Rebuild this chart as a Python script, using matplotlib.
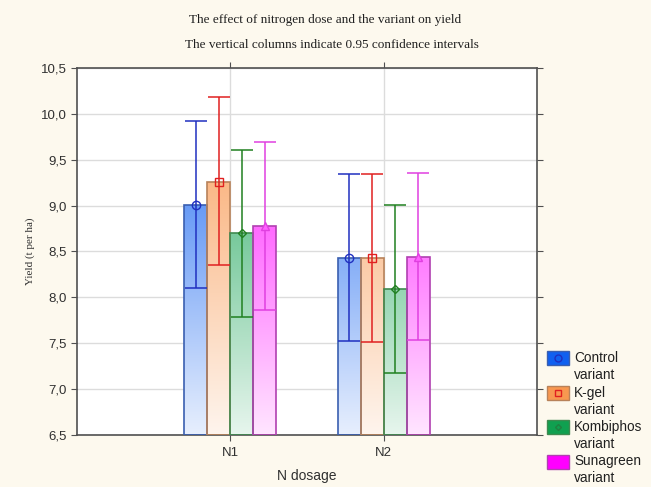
import numpy as np
import matplotlib
matplotlib.use('Agg')
import matplotlib.pyplot as plt
from matplotlib.patches import Rectangle
from matplotlib.lines import Line2D
from matplotlib.colors import to_rgb
from matplotlib.ticker import FuncFormatter

# Dane: plon (t/ha) i przedziały ufności 0.95
doses = ['N1', 'N2']
variants = ['Control\nvariant', 'K-gel\nvariant', 'Kombiphos\nvariant', 'Sunagreen\nvariant']
means = [[9.01, 8.43],
         [9.26, 8.43],
         [8.70, 8.09],
         [8.78, 8.44]]
ci_low = [[8.10, 7.52],
          [8.35, 7.51],
          [7.79, 7.18],
          [7.86, 7.53]]
ci_high = [[9.92, 9.34],
           [10.18, 9.34],
           [9.61, 9.01],
           [9.69, 9.36]]

fill_colors = ['#1060f0', '#f89850', '#10a050', '#ff00ff']
edge_colors = ['#3a5fb0', '#b8825a', '#3f8a50', '#b040b0']
err_colors = ['#2030c0', '#e02020', '#208020', '#e040e0']
markers = ['o', 's', 'D', '^']
msizes = [6, 6, 4, 6]

bg = '#fdf9ee'
ymin, ymax = 6.5, 10.5
W, H = 651, 487

fig = plt.figure(figsize=(6.51, 4.87), dpi=100, facecolor=bg)
ax = fig.add_axes([0.1183, 0.1068, 0.7066, 0.7536])
ax.set_facecolor('white')

x = np.arange(1, len(doses) + 1)
width = 0.15

def grad_img(color):
    # pionowy gradient: u góry nasycony, na dole prawie biały
    n = 256
    t = np.linspace(0, 1, n)[:, None]          # 0 = dół osi, 1 = góra osi
    a = 0.10 + 0.85 * t
    rgb = np.array(to_rgb(color))
    img = (1 - a[..., None]) * 1.0 + a[..., None] * rgb
    return img

for i in range(len(variants)):
    offs = (i - 1.5) * width
    img = grad_img(fill_colors[i])
    for j in range(len(doses)):
        x0 = x[j] + offs - width / 2
        top = means[i][j]
        im = ax.imshow(img, extent=(x0, x0 + width, ymin, ymax), origin='lower',
                       aspect='auto', zorder=2, interpolation='bilinear')
        clip = plt.Rectangle((x0, ymin), width, top - ymin, transform=ax.transData)
        im.set_clip_path(clip)
    ax.bar(x + offs, np.array(means[i]) - ymin, width, bottom=ymin,
           facecolor='none', edgecolor=edge_colors[i], linewidth=1.2, zorder=3)
    m = np.array(means[i])
    yerr = [m - np.array(ci_low[i]), np.array(ci_high[i]) - m]
    mfc = 'none' if i < 3 else '#ff60ff'
    ax.errorbar(x + offs, m, yerr=yerr, fmt=markers[i], color=err_colors[i],
                mfc=mfc, mec=err_colors[i], ms=msizes[i], elinewidth=1.1,
                capsize=8, capthick=1.1, zorder=4)

ax.set_xlim(0, 3)
ax.set_ylim(ymin, ymax)
ax.set_yticks(np.arange(6.5, 10.51, 0.5))
ax.yaxis.set_major_formatter(FuncFormatter(lambda v, p: f'{v:.1f}'.replace('.', ',')))
ax.set_xticks(x)
ax.set_xticklabels(doses)
ax.grid(True, color='#dcdcdc', linewidth=1, zorder=0)
ax.set_axisbelow(True)
for s in ax.spines.values():
    s.set_color('#505050')
    s.set_linewidth(1.2)
ax.tick_params(axis='both', direction='out', length=4, color='#505050',
               labelsize=9.5, labelcolor='#303030', top=True, right=True,
               labeltop=False, labelright=False)
for lab in ax.get_xticklabels() + ax.get_yticklabels():
    lab.set_family('Liberation Sans')
ax.tick_params(axis='x', pad=5)

ax.set_xlabel('N dosage', family='Liberation Sans', fontsize=10, color='#303030', labelpad=7)
ax.set_ylabel('Yield (t per ha)', family='Liberation Serif', fontsize=8, color='#303030', labelpad=4)

fig.text(0.50, 0.958, 'The effect of nitrogen dose and the variant on yield',
         ha='center', va='center', family='Liberation Serif', fontsize=9.5, color='#202020')
fig.text(0.51, 0.907, 'The vertical columns indicate 0.95 confidence intervals',
         ha='center', va='center', family='Liberation Serif', fontsize=9.5, color='#202020')

# legenda rysowana ręcznie: prostokąt + znacznik, podpis w dwóch wierszach
for i, lab in enumerate(variants):
    yc = 358 + 34.5 * i
    fig.add_artist(Rectangle((547 / W, 1 - (yc + 7) / H), 22 / W, 14 / H,
                             transform=fig.transFigure, facecolor=fill_colors[i],
                             edgecolor=edge_colors[i], linewidth=1))
    if i < 3:
        fig.add_artist(Line2D([558 / W], [1 - yc / H], transform=fig.transFigure,
                              marker=markers[i], linestyle='none', mfc='none',
                              mec=err_colors[i] if i != 2 else '#208040',
                              ms=msizes[i] - 1, mew=1))
    lines = lab.split('\n')
    for k, txt in enumerate(lines):
        fig.text(574 / W, 1 - (yc + 17 * k) / H, txt, ha='left', va='center',
                 family='Liberation Sans', fontsize=9.8, color='#202020')

fig.savefig('out.png', dpi=100, facecolor=bg)
